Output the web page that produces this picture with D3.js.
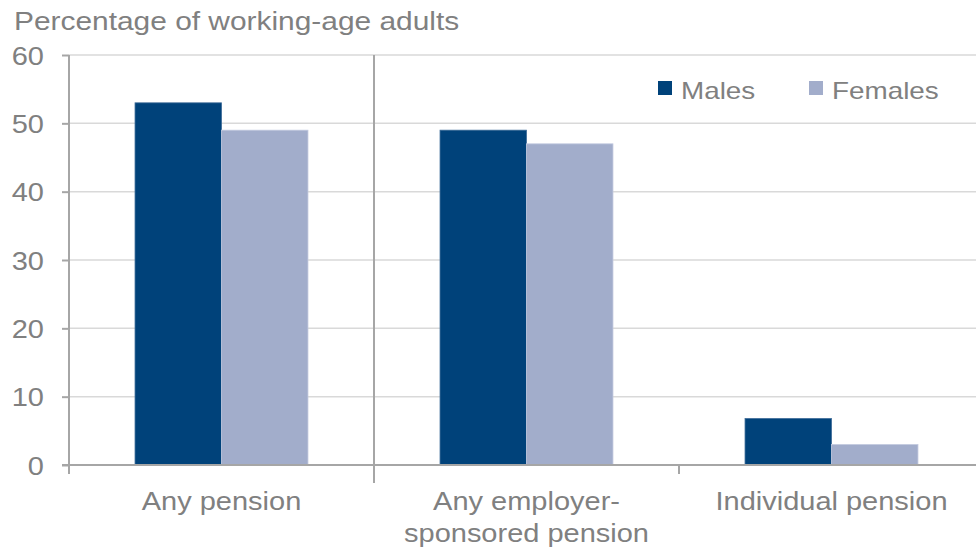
<!DOCTYPE html>
<html>
<head>
<meta charset="utf-8">
<script src="https://cdn.jsdelivr.net/npm/d3@7"></script>
<style>
  html, body { margin: 0; padding: 0; background: #fff; }
  svg { display: block; font-family: "Liberation Sans", Arial, sans-serif; }
</style>
</head>
<body>
<svg id="chart" width="976" height="549"></svg>
<script>
// ---- data ----
const categories = ["Any pension", "Any employer-sponsored pension", "Individual pension"];
const categoryLines = [["Any pension"], ["Any employer-", "sponsored pension"], ["Individual pension"]];
const seriesNames = ["Males", "Females"];
const males = [53, 49, 6.8];
const females = [49, 47, 3];
const yTicks = [0, 10, 20, 30, 40, 50, 60];
const yTitle = "Percentage of working-age adults";

// ---- style ----
const colors = { Males: "#00427A", Females: "#A2ADCB" };
const textColor = "#808080";
const stretch = 1.16;

const svg = d3.select("#chart");
const plotLeft = 69, plotRight = 984, plotTop = 55, plotBottom = 465;

const x = d3.scaleBand().domain(categories).range([plotLeft, plotRight]).paddingInner(0).paddingOuter(0);
const bw = x.bandwidth();
const x1 = d3.scaleBand().domain(seriesNames).range([bw * 0.2165, bw * 0.7835]).padding(0);
const y = d3.scaleLinear().domain([0, 60]).range([plotBottom, plotTop]);

// gridlines
svg.append("g").selectAll("line").data(yTicks.filter(d => d > 0)).join("line")
  .attr("x1", plotLeft).attr("x2", 976)
  .attr("y1", d => y(d)).attr("y2", d => y(d))
  .attr("stroke", "#d9d9d9").attr("stroke-width", 1.5);

// category separator (full height between first and second group)
svg.append("line")
  .attr("x1", x(categories[1])).attr("x2", x(categories[1]))
  .attr("y1", y(60)).attr("y2", plotBottom + 18)
  .attr("stroke", "#a6a6a6").attr("stroke-width", 2);

// bars
const rows = categories.map((c, i) => ({ cat: c, values: [
  { key: "Males", value: males[i] }, { key: "Females", value: females[i] }] }));

const g = svg.append("g").selectAll("g").data(rows).join("g")
  .attr("transform", d => `translate(${x(d.cat)},0)`);
g.selectAll("rect").data(d => d.values).join("rect")
  .attr("x", d => x1(d.key))
  .attr("y", d => y(d.value))
  .attr("width", x1.bandwidth())
  .attr("height", d => y(0) - y(d.value))
  .attr("fill", d => colors[d.key])
  .attr("stroke", d => d.key === "Males" ? "#3d6b98" : "#c3cadf")
  .attr("stroke-width", 0.8);

// x axis
svg.append("line").attr("x1", plotLeft - 7).attr("x2", 976)
  .attr("y1", plotBottom).attr("y2", plotBottom)
  .attr("stroke", "#a6a6a6").attr("stroke-width", 2);
svg.append("g").selectAll("line").data([categories[0], categories[2]]).join("line")
  .attr("x1", d => x(d)).attr("x2", d => x(d))
  .attr("y1", plotBottom).attr("y2", plotBottom + 9)
  .attr("stroke", "#a6a6a6").attr("stroke-width", 2);

// y axis
const yAxis = d3.axisLeft(y).tickValues(yTicks).tickSize(7).tickSizeOuter(0);
const ya = svg.append("g").attr("transform", `translate(${plotLeft},0)`).call(yAxis);
ya.select(".domain").attr("stroke", "#a6a6a6").attr("stroke-width", 2)
  .attr("d", `M0,${plotTop}V${plotBottom + 8}`);
ya.selectAll(".tick line").attr("stroke", "#a6a6a6").attr("stroke-width", 2);
ya.selectAll(".tick text")
  .attr("x", null).attr("dy", null)
  .attr("fill", textColor).attr("font-size", 25)
  .attr("font-family", "Liberation Sans, Arial, sans-serif")
  .attr("text-anchor", "end")
  .attr("transform", `translate(-25,9) scale(${stretch},1)`);

// category labels
svg.append("g").selectAll("text").data(categories).join("text")
  .attr("transform", d => `translate(${x(d) + bw / 2},0) scale(${stretch},1)`)
  .attr("text-anchor", "middle").attr("fill", textColor).attr("font-size", 25)
  .selectAll("tspan").data((d, i) => categoryLines[i]).join("tspan")
  .attr("x", 0).attr("y", (d, i) => 510 + i * 32).text(d => d);

// title
svg.append("text").attr("transform", `translate(14,30) scale(${stretch - 0.01},1)`)
  .attr("fill", textColor).attr("font-size", 26).text(yTitle);

// legend
const legendX = [658, 809];
const lg = svg.append("g").selectAll("g").data(seriesNames).join("g")
  .attr("transform", (d, i) => `translate(${legendX[i]},81)`);
lg.append("rect").attr("width", 14).attr("height", 14).attr("fill", d => colors[d]);
lg.append("text").attr("transform", `translate(23,18) scale(${stretch},1)`)
  .attr("fill", textColor).attr("font-size", 24).text(d => d);
</script>
</body>
</html>
